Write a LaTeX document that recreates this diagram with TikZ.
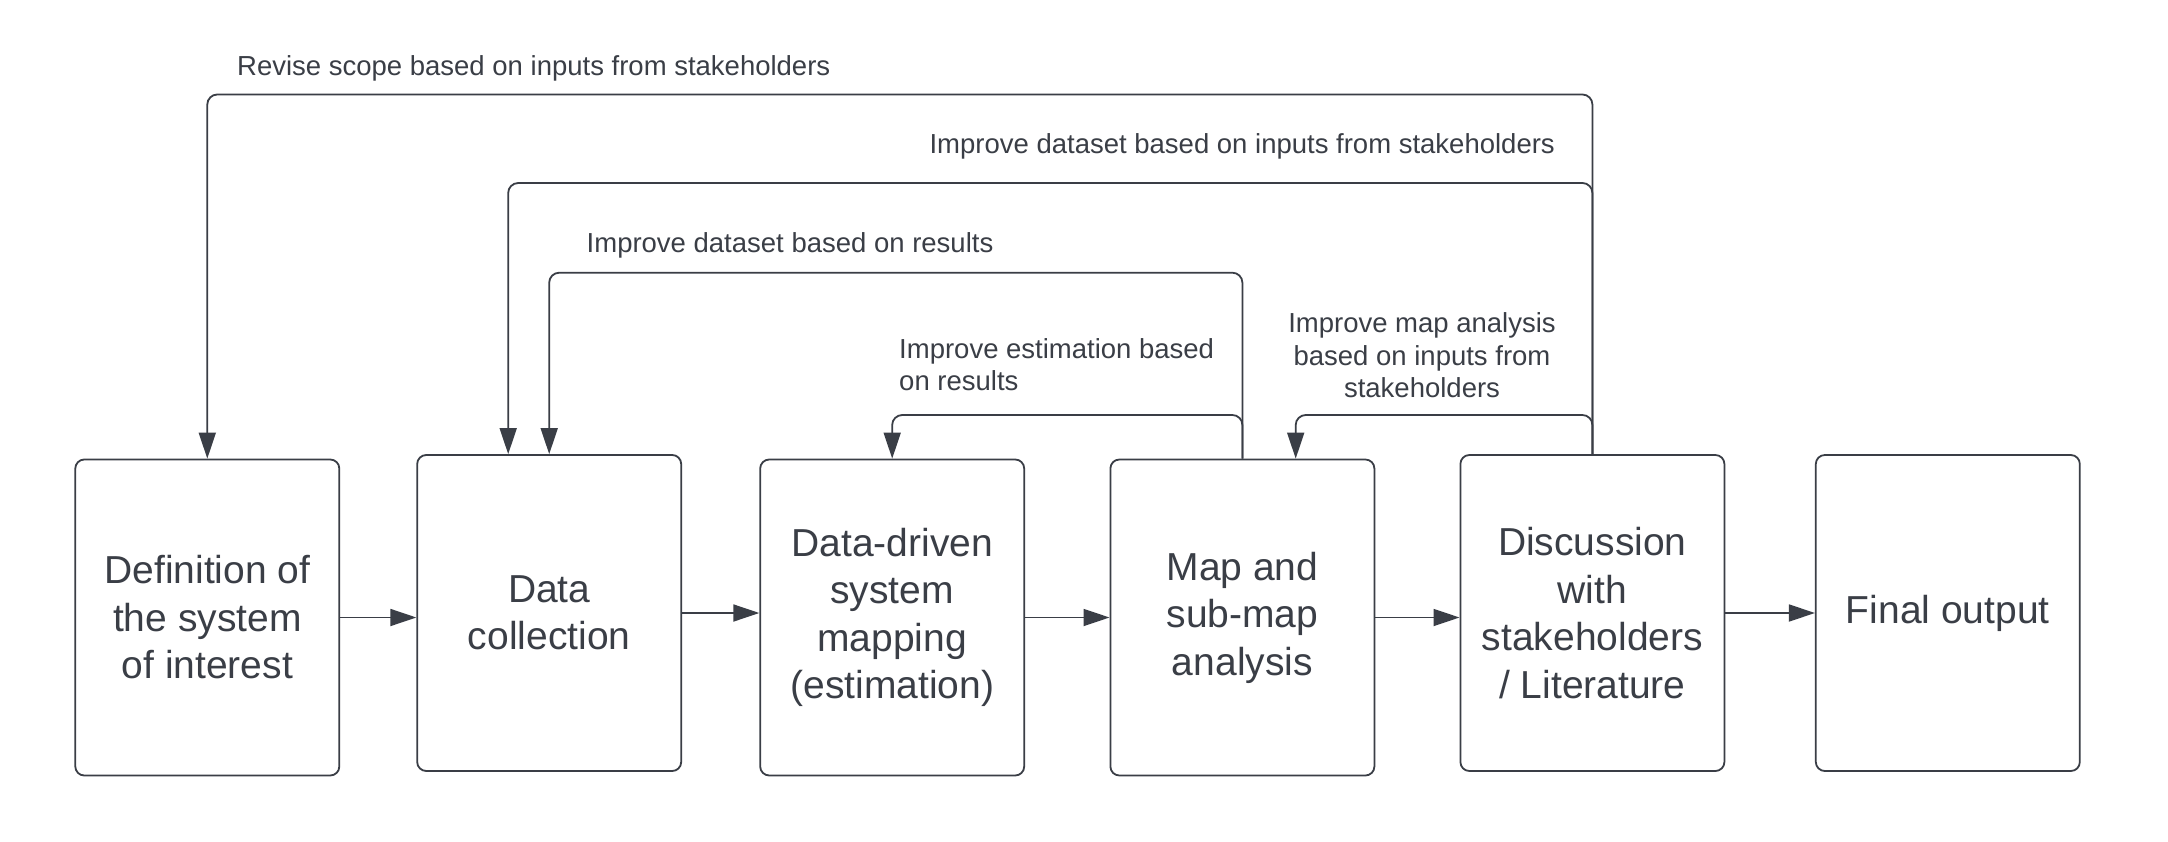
\documentclass[tikz,border=0pt]{standalone}
\usepackage{fontspec}
\setmainfont{Liberation Sans}
\usetikzlibrary{arrows.meta}
\definecolor{ink}{RGB}{58,62,70}
\begin{document}
\begin{tikzpicture}[x=1pt,y=-1pt,
  box/.style={draw=ink, line width=1.8pt, rounded corners=9pt, minimum width=264pt, minimum height=316pt, align=center, text=ink, font=\fontsize{39}{47.5}\selectfont, inner sep=0pt},
  conn/.style={draw=ink, line width=1.8pt, rounded corners=10pt, -{Triangle[length=26pt,width=17pt]}},
  lbl/.style={text=ink, font=\fontsize{27.5}{32.5}\selectfont, inner sep=0pt}]
\useasboundingbox (0,0) rectangle (2168,842);
\fill[white] (0,0) rectangle (2168,842);

\node[box] (b1) at (207.3,617.5) {Definition of\\the system\\of interest};
\node[box] (b2) at (549.2,613) {Data\\collection};
\node[box] (b3) at (892.2,617.5) {Data-driven\\system\\mapping\\(estimation)};
\node[box] (b4) at (1242.4,617.5) {Map and\\sub-map\\analysis};
\node[box] (b5) at (1592.4,613) {Discussion\\with\\stakeholders\\/ Literature};
\node[box] (b6) at (1947.8,613) {Final output};

\draw[conn] (b1.east) -- (b1.east -| b2.west);
\draw[conn] (b2.east) -- (b2.east -| b3.west);
\draw[conn] (b3.east) -- (b3.east -| b4.west);
\draw[conn] (b4.east) -- (b4.east -| b5.west);
\draw[conn] (b5.east) -- (b5.east -| b6.west);

\coordinate (l1) at (0,94.5);
\coordinate (l2) at (0,183);
\coordinate (l3) at (0,272.7);
\coordinate (l4) at (0,415);
\coordinate (b2a) at ([xshift=-41pt]b2.north);
\coordinate (b4a) at ([xshift=53.3pt]b4.north);

\draw[conn] (b5.north) -- (b5.north |- l1) -| (b1.north);
\draw[conn] (b5.north) -- (b5.north |- l2) -| (b2a);
\draw[conn] (b4.north) -- (b4.north |- l3) -| (b2.north);
\draw[conn] (b4.north) -- (b4.north |- l4) -| (b3.north);
\draw[conn] (b5.north) -- (b5.north |- l4) -| (b4a);

\node[lbl, anchor=west] (t1) at (237,68) {Revise scope based on inputs from stakeholders};
\node[lbl, anchor=east] (t2) at (1555,146) {Improve dataset based on inputs from stakeholders};
\node[lbl, anchor=west] (t3) at (586.5,245) {Improve dataset based on results};
\node[lbl, anchor=west, align=left] (t4) at (899,364.5) {Improve estimation based\\on results};
\node[lbl, align=center] (t5) at (1422,355.5) {Improve map analysis\\based on inputs from\\stakeholders};
\end{tikzpicture}
\end{document}
